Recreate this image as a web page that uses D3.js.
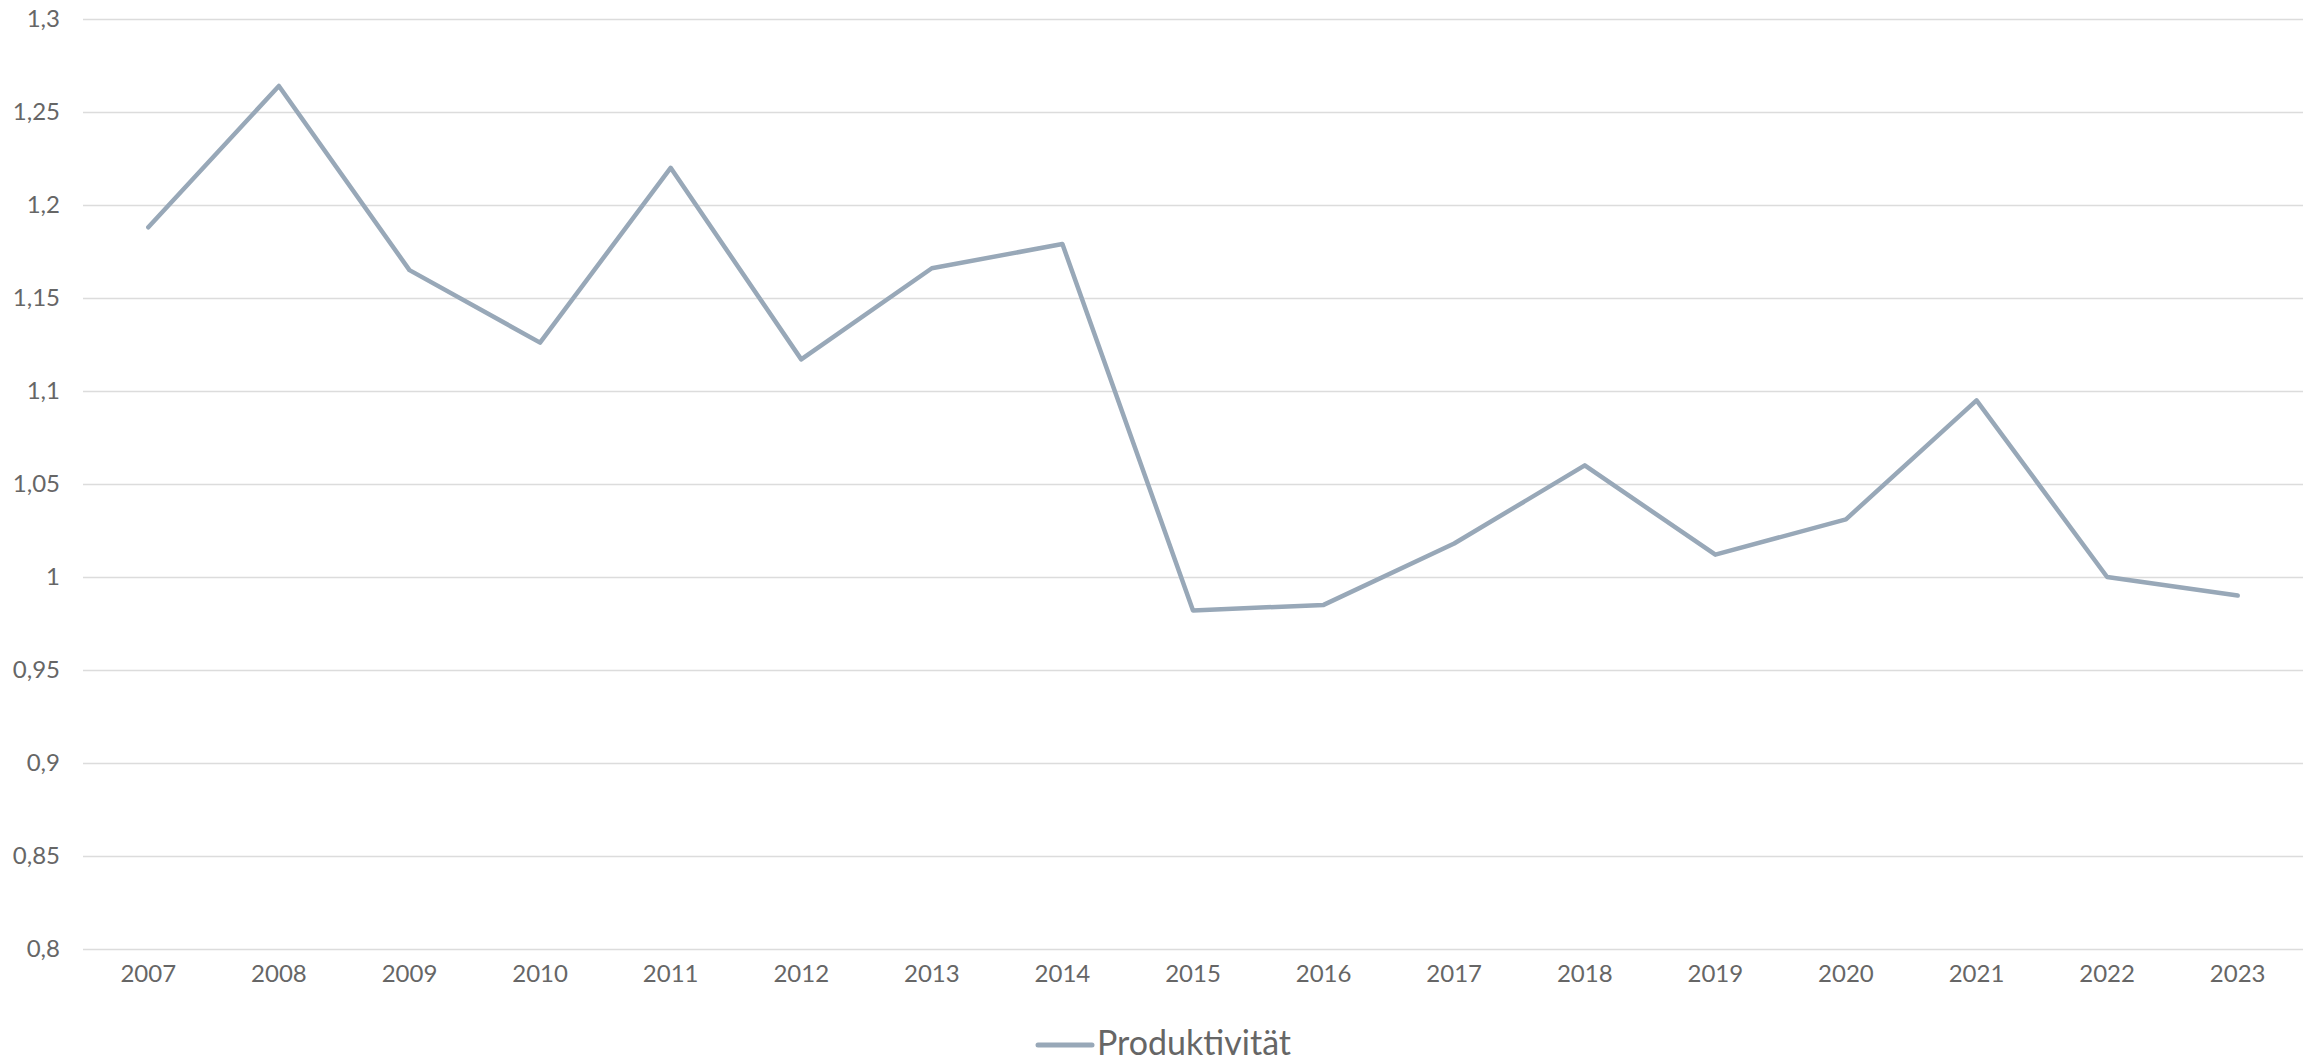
<!DOCTYPE html>
<html>
<head>
<meta charset="utf-8">
<script src="https://cdn.jsdelivr.net/npm/d3@7"></script>
<style>
  body { margin: 0; background: #fff; }
  svg text { font-family: Lato, "Open Sans", sans-serif; }
</style>
</head>
<body>
<svg width="2310" height="1062"></svg>
<script>
"use strict";

const years = ["2007", "2008", "2009", "2010", "2011", "2012", "2013", "2014", "2015",
  "2016", "2017", "2018", "2019", "2020", "2021", "2022", "2023"];
const produktivitaet = [1.188, 1.264, 1.165, 1.126, 1.220, 1.117, 1.166, 1.179, 0.982,
  0.985, 1.018, 1.060, 1.012, 1.031, 1.095, 1.000, 0.990];
const yTicks = [0.8, 0.85, 0.9, 0.95, 1, 1.05, 1.1, 1.15, 1.2, 1.25, 1.3];
const seriesName = "Produktivität";

const svg = d3.select("svg");

// Plotbereich
const plotLeft = 83, plotRight = 2303, plotTop = 19, plotBottom = 949;

const xScale = d3.scaleBand().domain(years).range([plotLeft, plotRight]).padding(0);
const yScale = d3.scaleLinear().domain([0.8, 1.3]).range([plotBottom, plotTop]);

// Gitterlinien + y-Beschriftung (Komma als Dezimaltrenner)
const fmt = (d) => String(+d.toFixed(2)).replace(".", ",");

const yAxis = d3.axisLeft(yScale)
  .tickValues(yTicks)
  .tickSize(-(plotRight - plotLeft))
  .tickPadding(23)
  .tickFormat(fmt);

svg.append("g")
  .attr("transform", `translate(${plotLeft},0)`)
  .call(yAxis)
  .attr("font-family", null)
  .call((g) => g.select(".domain").remove())
  .call((g) => g.selectAll(".tick line").attr("stroke", "#dcdcdc").attr("stroke-width", 1.6))
  .call((g) => g.selectAll(".tick text").attr("fill", "#666").attr("font-size", 24));

const xAxis = d3.axisBottom(xScale).tickSize(0).tickPadding(16);

svg.append("g")
  .attr("transform", `translate(0,${plotBottom})`)
  .call(xAxis)
  .attr("font-family", null)
  .call((g) => g.select(".domain").remove())
  .call((g) => g.selectAll(".tick text").attr("fill", "#666").attr("font-size", 24));

// Linie
const line = d3.line()
  .x((d, i) => xScale(years[i]) + xScale.bandwidth() / 2)
  .y((d) => yScale(d));

svg.append("path")
  .datum(produktivitaet)
  .attr("d", line)
  .attr("fill", "none")
  .attr("stroke", "#98a8b8")
  .attr("stroke-width", 4.5)
  .attr("stroke-linejoin", "round")
  .attr("stroke-linecap", "round");

// Legende
const legend = svg.append("g").attr("transform", "translate(1038,1045)");
legend.append("line")
  .attr("x1", 0).attr("x2", 54)
  .attr("stroke", "#98a8b8")
  .attr("stroke-width", 5)
  .attr("stroke-linecap", "round");
legend.append("text")
  .attr("x", 59)
  .attr("y", 10)
  .attr("fill", "#666")
  .attr("font-size", 34)
  .text(seriesName);
</script>
</body>
</html>
